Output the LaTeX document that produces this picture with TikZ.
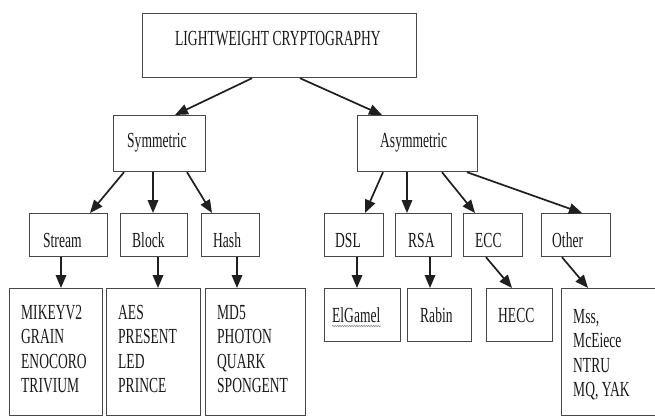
\documentclass[tikz,border=0pt]{standalone}
\usepackage{fontspec}
\setmainfont{Liberation Serif}
\usetikzlibrary{arrows.meta,decorations.pathmorphing}
\newcommand\sqz[1]{\scalebox{0.63}[1]{#1}}
\tikzset{
  box/.style={draw=black!72, line width=1.2pt, rectangle, inner sep=0pt, anchor=north west, fill=white},
  txt/.style={inner sep=0pt, anchor=base west, text=black!90, font=\fontsize{21.5}{24.5}\selectfont},
  arr/.style={draw=black!88, line width=1.7pt, -{Triangle[length=13pt,width=10.5pt]}},
}
\begin{document}
\begin{tikzpicture}[x=1pt,y=-1pt]
\useasboundingbox (0,0) rectangle (655,416);
\clip (0,0) rectangle (655,416);
\fill[white] (0,0) rectangle (655,416);
% boxes
\node[box, minimum width=274pt, minimum height=64pt] (top) at (142,13) {};
\node[box, minimum width=92pt, minimum height=56pt] (sym) at (113,115) {};
\node[box, minimum width=120pt, minimum height=56pt] (asym) at (357,115) {};
\node[box, minimum width=78pt, minimum height=43pt] (stream) at (29,213) {};
\node[box, minimum width=67pt, minimum height=43pt] (block) at (120,213) {};
\node[box, minimum width=58pt, minimum height=43pt] (hash) at (201,213) {};
\node[box, minimum width=59pt, minimum height=43pt] (dsl) at (324,213) {};
\node[box, minimum width=56pt, minimum height=43pt] (rsa) at (395,213) {};
\node[box, minimum width=59pt, minimum height=43pt] (ecc) at (463,213) {};
\node[box, minimum width=69pt, minimum height=43pt] (other) at (541,213) {};
\node[box, minimum width=93pt, minimum height=127pt] (lst1) at (9,288) {};
\node[box, minimum width=94pt, minimum height=127pt] (lst2) at (106,288) {};
\node[box, minimum width=100pt, minimum height=127pt] (lst3) at (205,288) {};
\node[box, minimum width=76pt, minimum height=53pt] (elg) at (324,288) {};
\node[box, minimum width=64pt, minimum height=53pt] (rabin) at (407,288) {};
\node[box, minimum width=66pt, minimum height=53pt] (hecc) at (486,288) {};
\node[box, minimum width=120pt, minimum height=127pt] (lst4) at (561,288) {};
% texts
\node[txt] (ttop) at (175,45) {\sqz{LIGHTWEIGHT CRYPTOGRAPHY}};
\node[txt] (tsym) at (127,147) {\sqz{Symmetric}};
\node[txt] (tasym) at (380,147) {\sqz{Asymmetric}};
\node[txt] (tstream) at (43,247) {\sqz{Stream}};
\node[txt] (tblock) at (132,247) {\sqz{Block}};
\node[txt] (thash) at (213,247) {\sqz{Hash}};
\node[txt] (tdsl) at (335,247) {\sqz{DSL}};
\node[txt] (trsa) at (408,247) {\sqz{RSA}};
\node[txt] (tecc) at (475,247) {\sqz{ECC}};
\node[txt] (tother) at (552,247) {\sqz{Other}};
\node[txt, anchor=north west] (tl1) at (21,302) {\sqz{\begin{tabular}{@{}l@{}}MIKEYV2\\GRAIN\\ENOCORO\\TRIVIUM\end{tabular}}};
\node[txt, anchor=north west] (tl2) at (118,302) {\sqz{\begin{tabular}{@{}l@{}}AES\\PRESENT\\LED\\PRINCE\end{tabular}}};
\node[txt, anchor=north west] (tl3) at (217,302) {\sqz{\begin{tabular}{@{}l@{}}MD5\\PHOTON\\QUARK\\SPONGENT\end{tabular}}};
\node[txt, anchor=north west] (tl4) at (573,306) {\sqz{\begin{tabular}{@{}l@{}}Mss,\\McEiece\\NTRU\\MQ, YAK\end{tabular}}};
\node[txt] (telg) at (332,322) {\sqz{ElGamel}};
\node[txt] (trabin) at (420,322) {\sqz{Rabin}};
\node[txt] (thecc) at (498,322) {\sqz{HECC}};
\draw[black!45, line width=0.6pt, decorate, decoration={snake, amplitude=0.7pt, segment length=2.4pt}]
  ([yshift=-4pt]telg.base west) -- ([yshift=-4pt]telg.base east);
% arrows
\draw[arr] ([xshift=110pt]top.south west) -- ([xshift=62pt]sym.north west);
\draw[arr] ([xshift=158pt]top.south west) -- ([xshift=25pt]asym.north west);
\draw[arr] ([xshift=11pt]sym.south west) -- ([xshift=61pt]stream.north west);
\draw[arr] ([xshift=40pt]sym.south west) -- ([xshift=33pt]block.north west);
\draw[arr] ([xshift=74pt]sym.south west) -- ([xshift=11pt]hash.north west);
\draw[arr] ([xshift=26pt]asym.south west) -- ([xshift=41pt]dsl.north west);
\draw[arr] ([xshift=50pt]asym.south west) -- ([xshift=12pt]rsa.north west);
\draw[arr] ([xshift=85pt]asym.south west) -- ([xshift=12pt]ecc.north west);
\draw[arr] ([xshift=110pt]asym.south west) -- ([xshift=41pt]other.north west);
\draw[arr] ([xshift=32pt]stream.south west) -- ([xshift=52pt]lst1.north west);
\draw[arr] ([xshift=38pt]block.south west) -- ([xshift=52pt]lst2.north west);
\draw[arr] ([xshift=36pt]hash.south west) -- ([xshift=32pt]lst3.north west);
\draw[arr] ([xshift=33pt]dsl.south west) -- ([xshift=33pt]elg.north west);
\draw[arr] ([xshift=35pt]rsa.south west) -- ([xshift=23pt]rabin.north west);
\draw[arr] ([xshift=23pt]ecc.south west) -- ([xshift=26pt]hecc.north west);
\draw[arr] ([xshift=21pt]other.south west) -- ([xshift=27pt]lst4.north west);
\end{tikzpicture}
\end{document}
